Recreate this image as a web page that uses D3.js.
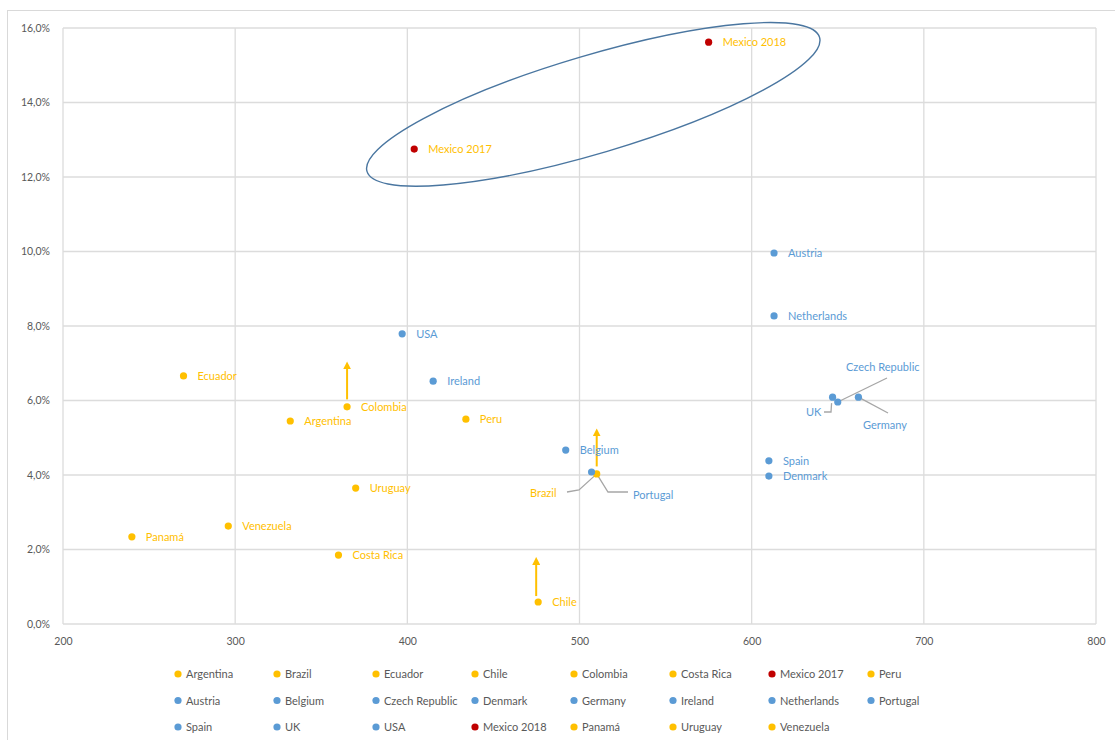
<!DOCTYPE html>
<html>
<head>
<meta charset="utf-8">
<script src="https://cdn.jsdelivr.net/npm/d3@7"></script>
<style>
body { margin: 0; background: #fff; }
text { font-family: Lato, "Open Sans", sans-serif; }
</style>
</head>
<body>
<div id="chart-area"></div>
<script>
// country names, in legend order
var names = ["Argentina", "Brazil", "Ecuador", "Chile", "Colombia", "Costa Rica", "Mexico 2017", "Peru",
	"Austria", "Belgium", "Czech Republic", "Denmark", "Germany", "Ireland", "Netherlands", "Portugal",
	"Spain", "UK", "USA", "Mexico 2018", "Panamá", "Uruguay", "Venezuela"];
var xValues = [332, 510, 270, 476, 365, 360, 404, 434,
	613, 492, 650, 610, 662, 415, 613, 507,
	610, 647, 397, 575, 240, 370, 296];
var yValues = [5.45, 4.03, 6.66, 0.59, 5.83, 1.85, 12.75, 5.5,
	9.96, 4.67, 5.96, 3.97, 6.09, 6.52, 8.27, 4.08,
	4.38, 6.09, 7.79, 15.62, 2.34, 3.65, 2.63];
// region: 0 = latin america, 1 = europe / usa, 2 = mexico
var groups = [0, 0, 0, 0, 0, 0, 2, 0,
	1, 1, 1, 1, 1, 1, 1, 1,
	1, 1, 1, 2, 0, 0, 0];
var xTicks = [200, 300, 400, 500, 600, 700, 800];
var yTicks = [0, 2, 4, 6, 8, 10, 12, 14, 16];

var dotColor = ["#ffc000", "#5b9bd5", "#c00000"];
var labelColor = ["#ffc000", "#5b9bd5", "#ffc000"];

var svg = d3.select("#chart-area").append("svg")
	.attr("width", 1115)
	.attr("height", 740);

svg.append("rect")
	.attr("x", 7.5).attr("y", 10.5)
	.attr("width", 1130).attr("height", 760)
	.attr("fill", "none")
	.attr("stroke", "#d9d9d9");

var x = d3.scaleLinear().domain([200, 800]).range([63, 1096]);
var y = d3.scaleLinear().domain([0, 16]).range([624, 28]);

// gridlines
svg.append("g").selectAll("line")
	.data(xTicks)
	.enter().append("line")
	.attr("x1", d => x(d)).attr("x2", d => x(d))
	.attr("y1", y(0)).attr("y2", y(16))
	.attr("stroke", "#dcdcdc").attr("stroke-width", 1.3);

svg.append("g").selectAll("line")
	.data(yTicks)
	.enter().append("line")
	.attr("x1", x(200)).attr("x2", x(800))
	.attr("y1", d => y(d)).attr("y2", d => y(d))
	.attr("stroke", "#dcdcdc").attr("stroke-width", 1.3);

// axes
var xAxis = d3.axisBottom(x).tickValues(xTicks).tickSize(0).tickPadding(14);
svg.append("g")
	.attr("transform", "translate(0," + y(0) + ")")
	.call(xAxis)
	.call(g => g.select(".domain").remove())
	.selectAll("text")
	.attr("font-size", "10.5px").attr("fill", "#595959");

var yAxis = d3.axisLeft(y).tickValues(yTicks).tickSize(0).tickPadding(13)
	.tickFormat(d => d.toFixed(1).replace(".", ",") + "%");
svg.append("g")
	.attr("transform", "translate(" + x(200) + ",0)")
	.call(yAxis)
	.call(g => g.select(".domain").remove())
	.selectAll("text")
	.attr("font-size", "10.5px").attr("fill", "#595959");

// ellipse round the two mexico points
svg.append("ellipse")
	.attr("cx", 0).attr("cy", 0)
	.attr("rx", 236).attr("ry", 49)
	.attr("transform", "translate(" + x(508) + "," + y(13.95) + ") rotate(-16.5)")
	.attr("fill", "none")
	.attr("stroke", "#4a76a0")
	.attr("stroke-width", 1.4);

// arrows
var defs = svg.append("defs");
defs.append("marker")
	.attr("id", "head")
	.attr("viewBox", "0 0 10 10")
	.attr("refX", 5).attr("refY", 5)
	.attr("markerWidth", 4).attr("markerHeight", 4)
	.attr("orient", "auto")
	.append("path")
	.attr("d", "M0,0 L10,5 L0,10 z")
	.attr("fill", "#ffc000");

var arrowFrom = ["Colombia", "Brazil", "Chile"];
var arrowTo = [7.05, 5.25, 1.8];
arrowFrom.forEach((n, i) => {
	var k = names.indexOf(n);
	var startY = n == "Chile" ? 0.75 : yValues[k] + 0.2;
	svg.append("line")
		.attr("x1", x(xValues[k]) + (n == "Chile" ? -2 : 0))
		.attr("x2", x(xValues[k]) + (n == "Chile" ? -2 : 0))
		.attr("y1", y(startY))
		.attr("y2", y(arrowTo[i]) + 4)
		.attr("stroke", "#ffc000")
		.attr("stroke-width", 2)
		.attr("marker-end", "url(#head)");
});

// leader lines
function leader(pts) {
	svg.append("path")
		.attr("d", d3.line()(pts))
		.attr("fill", "none")
		.attr("stroke", "#a6a6a6")
		.attr("stroke-width", 1.3);
}
var pt = n => [x(xValues[names.indexOf(n)]), y(yValues[names.indexOf(n)])];
leader([[824, 412], [831, 412], [pt("UK")[0] - 1, pt("UK")[1] + 6]]);
leader([pt("Czech Republic"), [887, 378]]);
leader([pt("Germany"), [888, 413]]);
leader([[567, 492], [579, 490], pt("Brazil")]);
leader([pt("Brazil"), [608, 492], [628, 492]]);

// dots
svg.append("g").selectAll("circle")
	.data(names)
	.enter().append("circle")
	.attr("cx", (d, i) => x(xValues[i]))
	.attr("cy", (d, i) => y(yValues[i]))
	.attr("r", 3.6)
	.attr("fill", (d, i) => dotColor[groups[i]]);

// labels (default: right of the dot)
var special = {
	"UK": [806, 416],
	"Czech Republic": [846, 371],
	"Germany": [863, 429],
	"Brazil": [530, 497],
	"Portugal": [633, 499]
};
svg.append("g").selectAll("text")
	.data(names)
	.enter().append("text")
	.attr("x", (d, i) => special[d] ? special[d][0] : x(xValues[i]) + 14)
	.attr("y", (d, i) => special[d] ? special[d][1] : y(yValues[i]) + 4)
	.attr("font-size", "11px")
	.attr("fill", (d, i) => labelColor[groups[i]])
	.text(d => d);

// legend, 8 per row
var legend = svg.append("g").selectAll("g")
	.data(names)
	.enter().append("g")
	.attr("transform", (d, i) => "translate(" + (178 + (i % 8) * 99) + "," + (674 + Math.floor(i / 8) * 26.5) + ")");
legend.append("circle")
	.attr("r", 3.6)
	.attr("fill", (d, i) => dotColor[groups[i]]);
legend.append("text")
	.attr("x", 8).attr("y", 4)
	.attr("font-size", "11px")
	.attr("fill", "#595959")
	.text(d => d);
</script>
</body>
</html>
